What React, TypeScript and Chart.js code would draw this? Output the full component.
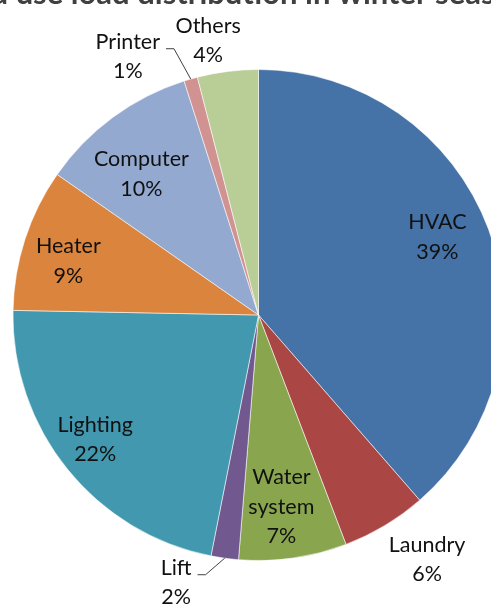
import React, { useEffect, useRef } from "react";
import { Chart, registerables } from "chart.js";

Chart.register(...registerables);

// End-use shares of the winter electrical load (percent)
const CATEGORIES = ["HVAC", "Laundry", "Water system", "Lift", "Lighting", "Heater", "Computer", "Printer", "Others"];
const SHARES = [38.6, 5.6, 7.1, 1.8, 22.2, 9.4, 10.4, 0.9, 4.0];
const COLORS = ["#4572A7", "#AA4643", "#89A54E", "#71588F", "#4198AF", "#DB843D", "#93A9CF", "#D19392", "#B9CD96"];
const TITLE = "End use load distribution in winter season";

// Label placement per slice: angular shift (degrees, clockwise) from the slice's
// mid-angle, distance as a fraction of the outer radius, and whether a leader line is drawn.
const LABEL_SHIFT_DEG = [-3.0, -3.6, 1.3, 9.2, 1.5, -2.2, -3.4, -10.8, -3.2];
const LABEL_RADIUS = [0.795, 1.21, 0.786, 1.14, 0.837, 0.805, 0.746, 1.18, 1.137];
const LEADER = [false, false, false, true, false, false, false, true, false];

const FONT_FAMILY = "Lato, 'Open Sans', sans-serif";
const LABEL_SIZE = 21.5;
const LINE_H = 29.5;

const sliceLabels = {
  id: "sliceLabels",
  afterDatasetsDraw(chart: any) {
    const ctx: CanvasRenderingContext2D = chart.ctx;
    const meta = chart.getDatasetMeta(0);
    const values = chart.data.datasets[0].data as number[];
    const total = values.reduce((a, b) => a + b, 0);
    ctx.save();
    ctx.font = `${LABEL_SIZE}px ${FONT_FAMILY}`;
    ctx.fillStyle = "#111111";
    ctx.textAlign = "center";
    ctx.textBaseline = "middle";
    meta.data.forEach((el: any, i: number) => {
      const { x, y, startAngle, endAngle, outerRadius } = el.getProps(
        ["x", "y", "startAngle", "endAngle", "outerRadius"],
        true
      );
      const mid = (startAngle + endAngle) / 2;
      const a = mid + (LABEL_SHIFT_DEG[i] * Math.PI) / 180;
      const r = LABEL_RADIUS[i] * outerRadius;
      const cx = x + r * Math.cos(a);
      const cy = y + r * Math.sin(a);
      const pct = Math.round((values[i] / total) * 100);
      const lines = [...String(chart.data.labels[i]).split(" "), `${pct}%`];
      const top = cy - ((lines.length - 1) / 2) * LINE_H;
      lines.forEach((t, k) => ctx.fillText(t, cx, top + k * LINE_H));
      if (LEADER[i]) {
        const nameW = ctx.measureText(lines[0]).width;
        const sx = cx + nameW / 2 + 6;
        const ly = top + 7;
        const tx = x + outerRadius * Math.cos(mid);
        const ty = y + outerRadius * Math.sin(mid);
        ctx.beginPath();
        ctx.moveTo(sx, ly);
        ctx.lineTo(sx + 8, ly);
        ctx.lineTo(tx, ty);
        ctx.strokeStyle = "#404040";
        ctx.lineWidth = 1;
        ctx.stroke();
      }
    });
    ctx.restore();
  },
  afterDraw(chart: any) {
    // Title sits above the visible area; only the bottom edge of its glyphs shows.
    const ctx: CanvasRenderingContext2D = chart.ctx;
    ctx.save();
    ctx.font = `bold 31px ${FONT_FAMILY}`;
    ctx.fillStyle = "#404040";
    ctx.textAlign = "left";
    ctx.textBaseline = "alphabetic";
    const head = ctx.measureText("End use load distribution in ").width;
    ctx.fillText(TITLE, 338 - head, 4);
    ctx.restore();
  },
};

export default function App() {
  const ref = useRef<HTMLCanvasElement | null>(null);

  useEffect(() => {
    if (!ref.current) return;
    const chart = new Chart(ref.current, {
      type: "pie",
      data: {
        labels: CATEGORIES,
        datasets: [
          {
            data: SHARES,
            backgroundColor: COLORS,
            borderColor: "rgba(255,255,255,0.55)",
            borderWidth: 1,
          },
        ],
      },
      options: {
        responsive: false,
        animation: false,
        devicePixelRatio: 1,
        layout: { padding: { left: 12.5, right: 12.5, top: 69, bottom: 69 } },
        plugins: {
          legend: { display: false },
          tooltip: { enabled: false },
          title: { display: false },
        },
      },
      plugins: [sliceLabels],
    });
    return () => chart.destroy();
  }, []);

  return (
    <div
      style={{
        position: "fixed",
        left: 0,
        top: 0,
        width: 491,
        height: 606,
        overflow: "hidden",
        background: "#ffffff",
      }}
    >
      <canvas ref={ref} width={517} height={630} style={{ display: "block" }} />
    </div>
  );
}
